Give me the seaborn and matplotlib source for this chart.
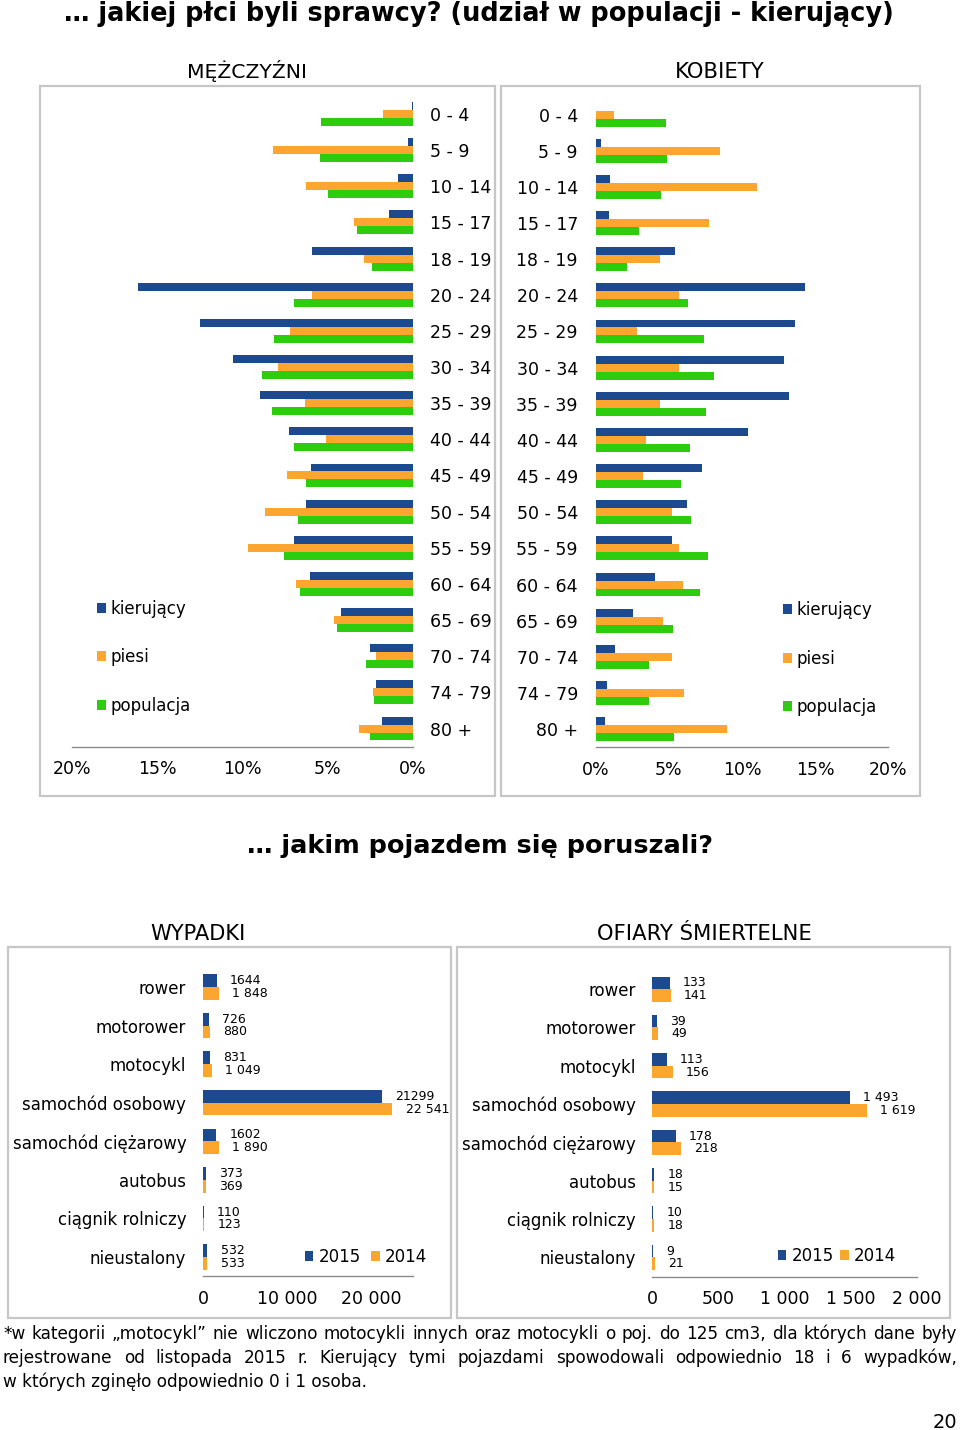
import numpy as np
import pandas as pd
import matplotlib
matplotlib.use('Agg')
import matplotlib.pyplot as plt
from matplotlib.patches import Rectangle
import seaborn as sns

# ---------------- data ----------------
ages = ['0 - 4', '5 - 9', '10 - 14', '15 - 17', '18 - 19', '20 - 24', '25 - 29',
        '30 - 34', '35 - 39', '40 - 44', '45 - 49', '50 - 54', '55 - 59',
        '60 - 64', '65 - 69', '70 - 74', '74 - 79', '80 +']
series_names = ['kierujący', 'piesi', 'populacja']

male_kier = [0.05, 0.3, 0.9, 1.4, 5.95, 16.1, 12.5, 10.55, 9.0, 7.25, 6.0, 6.25, 7.0, 6.05, 4.25, 2.5, 2.15, 1.8]
male_piesi = [1.75, 8.2, 6.25, 3.45, 2.85, 5.9, 7.2, 7.9, 6.35, 5.1, 7.4, 8.7, 9.65, 6.85, 4.65, 2.15, 2.35, 3.15]
male_pop = [5.4, 5.45, 5.0, 3.3, 2.4, 7.0, 8.15, 8.85, 8.25, 7.0, 6.25, 6.75, 7.55, 6.6, 4.45, 2.75, 2.3, 2.5]

female_kier = [0.03, 0.35, 0.95, 0.9, 5.4, 14.3, 13.65, 12.85, 13.2, 10.4, 7.25, 6.2, 5.2, 4.05, 2.55, 1.3, 0.75, 0.6]
female_piesi = [1.2, 8.5, 11.05, 7.75, 4.35, 5.7, 2.8, 5.7, 4.35, 3.4, 3.25, 5.2, 5.7, 5.95, 4.6, 5.2, 6.05, 9.0]
female_pop = [4.8, 4.85, 4.45, 2.95, 2.15, 6.3, 7.4, 8.05, 7.55, 6.45, 5.85, 6.5, 7.65, 7.15, 5.25, 3.65, 3.6, 5.35]

pct_ticks = [0, 5, 10, 15, 20]
pct_labels = ['0%', '5%', '10%', '15%', '20%']

vehicles = ['rower', 'motorower', 'motocykl', 'samochód osobowy', 'samochód ciężarowy',
            'autobus', 'ciągnik rolniczy', 'nieustalony']
years = ['2015', '2014']
acc_2015 = [1644, 726, 831, 21299, 1602, 373, 110, 532]
acc_2014 = [1848, 880, 1049, 22541, 1890, 369, 123, 533]
acc_2015_lbl = ['1644', '726', '831', '21299', '1602', '373', '110', '532']
acc_2014_lbl = ['1 848', '880', '1 049', '22 541', '1 890', '369', '123', '533']
fat_2015 = [133, 39, 113, 1493, 178, 18, 10, 9]
fat_2014 = [141, 49, 156, 1619, 218, 15, 18, 21]
fat_2015_lbl = ['133', '39', '113', '1 493', '178', '18', '10', '9']
fat_2014_lbl = ['141', '49', '156', '1 619', '218', '15', '18', '21']

acc_ticks = [0, 10000, 20000]
acc_tick_labels = ['0', '10 000', '20 000']
fat_ticks = [0, 500, 1000, 1500, 2000]
fat_tick_labels = ['0', '500', '1 000', '1 500', '2 000']

title_top = '… jakiej płci byli sprawcy? (udział w populacji - kierujący)'
title_mid = '… jakim pojazdem się poruszali?'
footnote_lines = [
    '*w kategorii „motocykl” nie wliczono motocykli innych oraz motocykli o poj. do 125 cm3, dla których dane były',
    'rejestrowane od listopada 2015 r. Kierujący tymi pojazdami spowodowali odpowiednio 18 i 6 wypadków,',
    'w których zginęło odpowiednio 0 i 1 osoba.',
]
page_no = '20'

# ---------------- style ----------------
sns.set_style('white')
plt.rcParams['font.family'] = ['DejaVu Sans']
plt.rcParams['text.color'] = 'black'
plt.rcParams['axes.labelcolor'] = 'black'

BLUE = '#1d4a8e'
ORANGE = '#fca62f'
GREEN = '#2ecc0e'
AXGRAY = '#8a8a8a'
BOXGRAY = '#c6c6c6'

W, H = 960, 1430
fig = plt.figure(figsize=(9.6, 14.3), dpi=100)
renderer = fig.canvas.get_renderer()


def ax_px(l, t, r, b):
    return fig.add_axes([l / W, 1 - b / H, (r - l) / W, (b - t) / H])


def box_px(l, t, r, b):
    fig.patches.append(Rectangle((l / W, 1 - b / H), (r - l) / W, (b - t) / H,
                                 transform=fig.transFigure, fill=False,
                                 edgecolor=BOXGRAY, linewidth=1.6, zorder=0))


def long_df(cats, series, names, catname):
    rows = []
    for name, vals in zip(names, series):
        for c, v in zip(cats, vals):
            rows.append((c, name, v))
    return pd.DataFrame(rows, columns=[catname, 'seria', 'wartosc'])


def style_x(ax, ticks, labels):
    for s in ['top', 'left', 'right']:
        ax.spines[s].set_visible(False)
    ax.spines['bottom'].set_color(AXGRAY)
    ax.spines['bottom'].set_linewidth(1)
    ax.set_xticks(ticks)
    ax.set_xticklabels(labels)
    ax.tick_params(axis='x', direction='out', length=4, width=1, color=AXGRAY,
                   labelsize=12.5, pad=6, labelcolor='black')
    ax.set_xlabel('')
    ax.set_ylabel('')
    ax.grid(False)
    ax.set_facecolor('none')


def fit_text(x, y, s, width, ha='center', **kw):
    t = fig.text(x / W, 1 - y / H, s, ha=ha, va='baseline', fontsize=10, color='black', **kw)
    w = t.get_window_extent(renderer).width
    t.set_fontsize(10 * width / w)
    return t


bar_kw = dict(orient='h', saturation=1, errorbar=None, width=0.66,
              linewidth=0, edgecolor='none')

# ---------------- panel boxes ----------------
box_px(40, 86, 495, 796)
box_px(501, 86, 920, 796)
box_px(8, 947, 451, 1318)
box_px(457, 947, 950, 1318)

# ---------------- top: men ----------------
pal3 = [BLUE, ORANGE, GREEN]
ax_m = ax_px(72, 95.9, 413, 746.6)
df_m = long_df(ages, [male_kier, male_piesi, male_pop], series_names, 'wiek')
sns.barplot(data=df_m, x='wartosc', y='wiek', hue='seria', palette=pal3, ax=ax_m, **bar_kw)
ax_m.set_xlim(20, 0)
style_x(ax_m, pct_ticks, pct_labels)
ax_m.yaxis.tick_right()
ax_m.tick_params(axis='y', length=0, pad=12, labelsize=12.5, labelcolor='black')
h, l = ax_m.get_legend_handles_labels()
ax_m.legend(h, l, loc='center left', bbox_to_anchor=(97 / W, 1 - 657 / H),
            bbox_transform=fig.transFigure, frameon=False, fontsize=12,
            handlelength=0.55, handleheight=0.55, handletextpad=0.27,
            labelspacing=1.83, borderpad=0, borderaxespad=0)

# ---------------- top: women ----------------
ax_f = ax_px(596, 96.5, 888, 747.2)
df_f = long_df(ages, [female_kier, female_piesi, female_pop], series_names, 'wiek')
sns.barplot(data=df_f, x='wartosc', y='wiek', hue='seria', palette=pal3, ax=ax_f, **bar_kw)
ax_f.set_xlim(0, 20)
style_x(ax_f, pct_ticks, pct_labels)
ax_f.tick_params(axis='y', length=0, pad=13, labelsize=12.5, labelcolor='black')
h, l = ax_f.get_legend_handles_labels()
ax_f.legend(h, l, loc='center left', bbox_to_anchor=(783 / W, 1 - 658.5 / H),
            bbox_transform=fig.transFigure, frameon=False, fontsize=12,
            handlelength=0.55, handleheight=0.55, handletextpad=0.27,
            labelspacing=1.83, borderpad=0, borderaxespad=0)

# ---------------- bottom: accidents ----------------
pal2 = [BLUE, ORANGE]
ax_a = ax_px(203, 967.7, 413, 1276.3)
df_a = long_df(vehicles, [acc_2015, acc_2014], years, 'pojazd')
sns.barplot(data=df_a, x='wartosc', y='pojazd', hue='seria', palette=pal2, ax=ax_a, **bar_kw)
ax_a.set_xlim(0, 25000)
style_x(ax_a, acc_ticks, acc_tick_labels)
ax_a.tick_params(axis='y', length=0, pad=12, labelsize=12, labelcolor='black')
for cont, lbls in zip(ax_a.containers, [acc_2015_lbl, acc_2014_lbl]):
    ax_a.bar_label(cont, labels=lbls, padding=9.5, fontsize=9, color='black')
h, l = ax_a.get_legend_handles_labels()
ax_a.legend(h, l, loc='center left', bbox_to_anchor=(305 / W, 1 - 1257 / H),
            bbox_transform=fig.transFigure, frameon=False, fontsize=12, ncol=2,
            handlelength=0.5, handleheight=0.5, handletextpad=0.3,
            columnspacing=0.65, borderpad=0, borderaxespad=0)

# ---------------- bottom: fatalities ----------------
ax_d = ax_px(652, 970, 917, 1276.5)
df_d = long_df(vehicles, [fat_2015, fat_2014], years, 'pojazd')
sns.barplot(data=df_d, x='wartosc', y='pojazd', hue='seria', palette=pal2, ax=ax_d, **bar_kw)
ax_d.set_xlim(0, 2000)
style_x(ax_d, fat_ticks, fat_tick_labels)
ax_d.tick_params(axis='y', length=0, pad=11.5, labelsize=12, labelcolor='black')
for cont, lbls in zip(ax_d.containers, [fat_2015_lbl, fat_2014_lbl]):
    ax_d.bar_label(cont, labels=lbls, padding=9.5, fontsize=9, color='black')
h, l = ax_d.get_legend_handles_labels()
ax_d.legend(h, l, loc='center left', bbox_to_anchor=(778 / W, 1 - 1256 / H),
            bbox_transform=fig.transFigure, frameon=False, fontsize=12, ncol=2,
            handlelength=0.5, handleheight=0.5, handletextpad=0.3,
            columnspacing=0.4, borderpad=0, borderaxespad=0)

# ---------------- titles ----------------
fit_text(479, 21, title_top, 828, fontweight='bold')
fit_text(480, 853, title_mid, 464, fontweight='bold')
fit_text(247, 78, 'MĘŻCZYŹNI', 120)
fit_text(719.5, 78, 'KOBIETY', 89)
fit_text(197.5, 940, 'WYPADKI', 95)
fit_text(704.5, 940, 'OFIARY ŚMIERTELNE', 213)

# ---------------- footnote (justified) ----------------
t3 = fit_text(3, 1387, footnote_lines[2], 364, ha='left')
fs_note = t3.get_fontsize()


def justify_line(line, x0, x1, y, fs):
    words = line.split(' ')
    ts = [fig.text(x0 / W, 1 - y / H, w, fontsize=fs, va='baseline', ha='left', color='black')
          for w in words]
    widths = [t.get_window_extent(renderer).width for t in ts]
    gap = (x1 - x0 - sum(widths)) / (len(words) - 1)
    x = x0
    for t, w in zip(ts, widths):
        t.set_x(x / W)
        x += w + gap


justify_line(footnote_lines[0], 3, 957, 1339, fs_note)
justify_line(footnote_lines[1], 3, 957, 1363, fs_note)

fig.text(957 / W, 1 - 1428 / H, page_no, ha='right', va='baseline', fontsize=14, color='black')

fig.savefig('out.png', dpi=100)
